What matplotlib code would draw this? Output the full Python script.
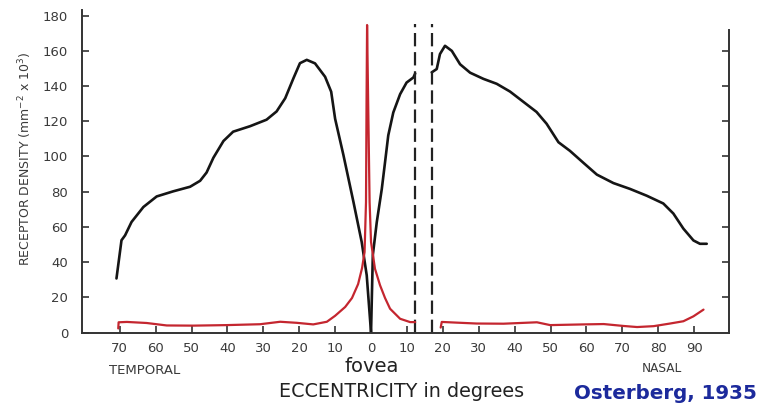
import numpy as np
import matplotlib
matplotlib.use("Agg")
import matplotlib.pyplot as plt

# rods (black), temporal side up to the fovea
rod_temporal_x = [-70.9, -69.5, -68.5, -66.7, -63.4, -59.7, -55.1, -50.4, -47.6, -45.8,
                  -43.9, -41.1, -38.4, -33.7, -29.1, -26.3, -23.9, -21.6, -19.8, -17.9,
                  -15.6, -12.8, -11.1, -10.0, -7.7, -4.9, -2.6, -1.2, 0.0]
rod_temporal_y = [30.7, 52.4, 55.2, 62.8, 71.3, 77.3, 80.2, 82.8, 86.2, 90.9,
                  99.3, 108.8, 114.1, 117.2, 120.9, 125.6, 133.1, 144.5, 153.0, 154.9,
                  152.9, 145.3, 136.8, 121.4, 100.9, 74.2, 51.4, 32.5, 0.0]
# rods, nasal side between fovea and blind spot
rod_nasal1_x = [0.0, 0.5, 1.6, 3.0, 3.9, 4.8, 6.2, 8.1, 9.9, 11.8, 12.3]
rod_nasal1_y = [0.0, 44.0, 62.7, 81.6, 96.7, 112.0, 125.0, 135.4, 142.0, 144.9, 147.2]
# rods, nasal side beyond blind spot
rod_nasal2_x = [16.9, 18.3, 19.2, 20.6, 22.5, 24.8, 27.6, 31.3, 35.0, 38.7, 42.4, 46.1,
                48.9, 52.2, 55.4, 59.1, 62.9, 67.5, 72.1, 76.8, 81.4, 84.2, 87.0, 89.8,
                91.6, 93.5]
rod_nasal2_y = [147.8, 149.7, 158.2, 162.9, 160.0, 152.4, 147.6, 144.1, 141.3, 136.9, 131.1, 125.3,
                118.6, 108.1, 103.2, 96.5, 89.7, 84.9, 81.6, 77.7, 73.3, 67.6, 59.0, 52.3,
                50.4, 50.4]

# cones (red)
cone1_x = [-70.4, -70.3, -68.0, -62.5, -56.9, -49.5, -40.2, -30.9, -25.3, -20.7, -16.1,
           -12.3, -10.0, -7.2, -5.3, -3.6, -2.5, -1.8, -1.4, -1.25, -1.1,
           -0.8, -0.4, 0.0, 1.1, 2.5, 3.9, 5.3, 8.1, 10.9, 12.3]
cone1_y = [2.3, 5.8, 6.0, 5.4, 4.0, 3.9, 4.2, 4.7, 6.1, 5.5, 4.6,
           6.1, 9.5, 14.5, 19.6, 27.5, 36.6, 45.7, 74.1, 130.9, 174.7,
           130.9, 74.1, 51.4, 36.2, 26.9, 19.6, 13.5, 7.8, 5.9, 5.9]
cone2_x = [19.4, 19.7, 23.9, 29.4, 36.9, 46.2, 49.9, 59.2, 64.8, 70.4, 74.1, 78.7,
           83.3, 87.0, 89.8, 92.6]
cone2_y = [2.8, 6.0, 5.6, 5.1, 5.0, 5.8, 4.2, 4.6, 4.8, 3.7, 3.1, 3.6,
           5.1, 6.4, 9.2, 13.0]

blind_spot = [12.3, 17.1]
xticks = list(range(-70, 91, 10))
xticklabels = [str(abs(t)) for t in xticks]
yticks = list(range(0, 181, 20))
right_ticks = list(range(20, 161, 20))

W, H = 759, 412
fig = plt.figure(figsize=(W / 100, H / 100), dpi=100)
ax = fig.add_axes([82 / W, 79.5 / H, 647 / W, 322.1 / H])

axis_col = '#333333'
line_kw = dict(solid_joinstyle='round', solid_capstyle='round')
ax.plot(rod_temporal_x, rod_temporal_y, color='#151515', lw=1.9, **line_kw)
ax.plot(rod_nasal1_x, rod_nasal1_y, color='#151515', lw=1.9, **line_kw)
ax.plot(rod_nasal2_x, rod_nasal2_y, color='#151515', lw=1.9, **line_kw)
for b in blind_spot:
    ax.plot([b, b], [0, 175], color='#222222', lw=1.6, dashes=(6, 2.6))
ax.plot(cone1_x, cone1_y, color='#c4262f', lw=1.6, **line_kw)
ax.plot(cone2_x, cone2_y, color='#c4262f', lw=1.6, **line_kw)

ax.set_xlim(-80.5, 99.7)
ax.set_ylim(0, 183)
ax.set_xticks(xticks)
ax.set_xticklabels(xticklabels)
ax.set_yticks(yticks)
ax.tick_params(axis='both', direction='in', length=5, width=1.2, color=axis_col,
               labelsize=9.5, labelcolor='#3a3a3a')
ax.tick_params(axis='x', pad=6.5)
ax.tick_params(axis='y', pad=10)
for s in ['top', 'right']:
    ax.spines[s].set_visible(False)
for s in ['left', 'bottom']:
    ax.spines[s].set_color(axis_col)
    ax.spines[s].set_linewidth(1.4)

ax2 = ax.twinx()
ax2.set_ylim(0, 183)
ax2.set_yticks(right_ticks)
ax2.set_yticklabels([])
ax2.tick_params(axis='y', direction='in', length=5, width=1.2, color=axis_col)
for s in ['top', 'left', 'bottom']:
    ax2.spines[s].set_visible(False)
ax2.spines['right'].set_bounds(0, 172)
ax2.spines['right'].set_color(axis_col)
ax2.spines['right'].set_linewidth(1.4)

fig.text(25 / W, 1 - 159 / H, r'RECEPTOR DENSITY (mm$^{-2}$ x 10$^{3}$)', rotation=90,
         ha='center', va='center', fontsize=9, color='#3a3a3a')
fig.text(145 / W, 1 - 374 / H, 'TEMPORAL', ha='center', va='baseline', fontsize=9.5, color='#3a3a3a')
fig.text(662 / W, 1 - 372 / H, 'NASAL', ha='center', va='baseline', fontsize=8.7, color='#3a3a3a')
fig.text(372 / W, 1 - 372 / H, 'fovea', ha='center', va='baseline', fontsize=14, color='#222222')
fig.text(401.5 / W, 1 - 397 / H, 'ECCENTRICITY in degrees', ha='center', va='baseline',
         fontsize=13.8, color='#222222')
fig.text(665.5 / W, 1 - 398.7 / H, 'Osterberg, 1935', ha='center', va='baseline',
         fontsize=14.3, fontweight='bold', color='#1c2a9c')

fig.savefig('out.png', dpi=100)
